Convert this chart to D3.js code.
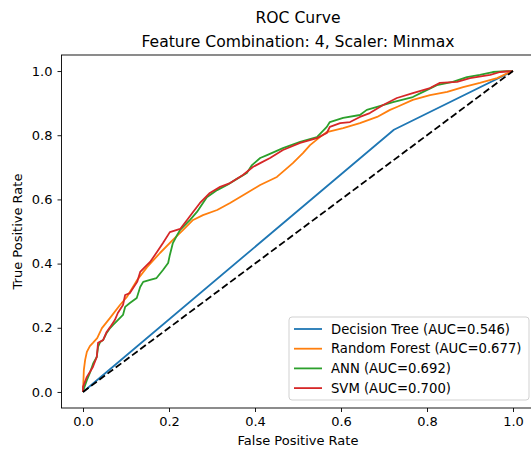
<!DOCTYPE html>
<html>
<head>
<meta charset="utf-8">
<script src="https://cdn.jsdelivr.net/npm/d3@7"></script>
<style>
  html, body { margin: 0; padding: 0; background: #fff; }
  svg { display: block; }
  text { font-family: "DejaVu Sans", sans-serif; fill: #000; }
</style>
</head>
<body>
<svg id="chart" width="531" height="450"></svg>
<script>
const titleMain = "ROC Curve";
const titleSub = "Feature Combination: 4, Scaler: Minmax";
const xLabel = "False Positive Rate";
const yLabel = "True Positive Rate";
const tickValues = [0.0, 0.2, 0.4, 0.6, 0.8, 1.0];

const seriesNames = ["Decision Tree", "Random Forest", "ANN", "SVM"];
const seriesAUC = ["0.546", "0.677", "0.692", "0.700"];
const seriesColors = ["#1f77b4", "#ff7f0e", "#2ca02c", "#d62728"];

const dtFpr = [0, 0.723, 1];
const dtTpr = [0, 0.817, 1];

const rfFpr = [0, 0.002, 0.005, 0.009, 0.016, 0.023, 0.033, 0.044, 0.063, 0.086, 0.102, 0.126, 0.149, 0.179, 0.209, 0.233, 0.256, 0.279, 0.312, 0.342, 0.381, 0.412, 0.451, 0.488, 0.512, 0.528, 0.551, 0.567, 0.605, 0.644, 0.684, 0.714, 0.730, 0.767, 0.807, 0.847, 0.884, 0.923, 0.963, 0.993, 1];
const rfTpr = [0, 0.069, 0.100, 0.125, 0.143, 0.153, 0.168, 0.199, 0.231, 0.271, 0.296, 0.349, 0.389, 0.433, 0.474, 0.505, 0.536, 0.551, 0.567, 0.589, 0.620, 0.645, 0.670, 0.713, 0.745, 0.769, 0.794, 0.810, 0.822, 0.838, 0.857, 0.879, 0.888, 0.910, 0.925, 0.935, 0.950, 0.963, 0.978, 0.997, 1];

const annFpr = [0, 0.001, 0.009, 0.016, 0.024, 0.032, 0.035, 0.040, 0.047, 0.055, 0.063, 0.070, 0.081, 0.093, 0.098, 0.109, 0.125, 0.133, 0.140, 0.156, 0.171, 0.186, 0.198, 0.202, 0.209, 0.219, 0.226, 0.249, 0.265, 0.279, 0.288, 0.312, 0.335, 0.358, 0.381, 0.393, 0.412, 0.428, 0.465, 0.505, 0.544, 0.567, 0.574, 0.605, 0.644, 0.660, 0.684, 0.721, 0.767, 0.791, 0.823, 0.860, 0.893, 0.923, 0.953, 0.986, 1];
const annTpr = [0, 0.006, 0.037, 0.059, 0.090, 0.109, 0.140, 0.156, 0.162, 0.184, 0.199, 0.209, 0.224, 0.240, 0.265, 0.277, 0.293, 0.327, 0.343, 0.349, 0.355, 0.380, 0.402, 0.427, 0.464, 0.489, 0.505, 0.536, 0.561, 0.589, 0.607, 0.629, 0.645, 0.664, 0.682, 0.707, 0.729, 0.738, 0.760, 0.779, 0.794, 0.826, 0.841, 0.854, 0.863, 0.879, 0.888, 0.903, 0.919, 0.935, 0.956, 0.966, 0.981, 0.988, 0.997, 1.0, 1];

const svmFpr = [0, 0, 0.009, 0.016, 0.023, 0.032, 0.035, 0.047, 0.055, 0.063, 0.074, 0.081, 0.093, 0.098, 0.109, 0.126, 0.133, 0.149, 0.156, 0.172, 0.186, 0.202, 0.226, 0.242, 0.256, 0.272, 0.295, 0.319, 0.342, 0.372, 0.395, 0.412, 0.435, 0.465, 0.505, 0.544, 0.567, 0.574, 0.598, 0.621, 0.644, 0.667, 0.698, 0.730, 0.767, 0.807, 0.830, 0.870, 0.900, 0.947, 0.970, 1];
const svmTpr = [0, 0.016, 0.047, 0.062, 0.078, 0.109, 0.153, 0.162, 0.187, 0.202, 0.224, 0.246, 0.271, 0.302, 0.308, 0.343, 0.374, 0.396, 0.405, 0.436, 0.464, 0.498, 0.508, 0.536, 0.561, 0.589, 0.620, 0.639, 0.651, 0.676, 0.701, 0.713, 0.729, 0.754, 0.776, 0.791, 0.807, 0.826, 0.838, 0.841, 0.857, 0.869, 0.894, 0.916, 0.931, 0.947, 0.963, 0.966, 0.978, 0.988, 0.997, 1];

const diagX = [0, 1];
const diagY = [0, 1];

const seriesFpr = [dtFpr, rfFpr, annFpr, svmFpr];
const seriesTpr = [dtTpr, rfTpr, annTpr, svmTpr];

const svg = d3.select("#chart");
const x = d3.scaleLinear().domain([-0.05, 1.05]).range([61.5, 534.5]);
const y = d3.scaleLinear().domain([-0.05, 1.05]).range([408, 55]);

// titles
svg.append("text").attr("x", 298).attr("y", 23).attr("text-anchor", "middle")
  .style("font-size", "15.6px").text(titleMain);
svg.append("text").attr("x", 298).attr("y", 47).attr("text-anchor", "middle")
  .style("font-size", "15.6px").text(titleSub);

// clip
svg.append("clipPath").attr("id", "clip").append("rect")
  .attr("x", 61.5).attr("y", 55).attr("width", 473).attr("height", 353);

const line = d3.line().x(d => x(d[0])).y(d => y(d[1]));
const plot = svg.append("g").attr("clip-path", "url(#clip)");

seriesNames.forEach((name, i) => {
  const pts = seriesFpr[i].map((v, j) => [v, seriesTpr[i][j]]);
  plot.append("path").datum(pts).attr("d", line)
    .attr("fill", "none").attr("stroke", seriesColors[i])
    .attr("stroke-width", 1.8).attr("stroke-linejoin", "round");
});
plot.append("path").datum(diagX.map((v, j) => [v, diagY[j]])).attr("d", line)
  .attr("fill", "none").attr("stroke", "#000").attr("stroke-width", 1.8)
  .attr("stroke-dasharray", "7,3.2");

// axes
const xAxis = svg.append("g").attr("transform", "translate(0,408)")
  .call(d3.axisBottom(x).tickValues(tickValues).tickFormat(d3.format(".1f")).tickSize(4).tickPadding(4.5));
const yAxis = svg.append("g").attr("transform", "translate(61.5,0)")
  .call(d3.axisLeft(y).tickValues(tickValues).tickFormat(d3.format(".1f")).tickSize(4).tickPadding(5));
[xAxis, yAxis].forEach(a => {
  a.select(".domain").remove();
  a.selectAll(".tick line").attr("stroke", "#000").attr("stroke-width", 0.9);
  a.selectAll(".tick text").style("font-size", "13px").style("font-family", "DejaVu Sans, sans-serif").attr("fill", "#000");
});

// spines
svg.append("rect").attr("x", 61.5).attr("y", 55).attr("width", 473).attr("height", 353)
  .attr("fill", "none").attr("stroke", "#000").attr("stroke-width", 0.9);

// axis labels
svg.append("text").attr("x", 298).attr("y", 445).attr("text-anchor", "middle")
  .style("font-size", "13px").text(xLabel);
svg.append("text").attr("transform", "translate(21.5,231.5) rotate(-90)").attr("text-anchor", "middle")
  .style("font-size", "13px").text(yLabel);

// legend
const lg = svg.append("g");
lg.append("rect").attr("x", 289).attr("y", 317).attr("width", 240).attr("height", 83)
  .attr("rx", 3).attr("fill", "#fff").attr("fill-opacity", 0.8)
  .attr("stroke", "#ccc").attr("stroke-width", 0.9);
seriesNames.forEach((name, i) => {
  const cy = 329 + i * 19.7;
  lg.append("line").attr("x1", 294).attr("x2", 322).attr("y1", cy).attr("y2", cy)
    .attr("stroke", seriesColors[i]).attr("stroke-width", 1.8);
  lg.append("text").attr("x", 331).attr("y", cy + 4.7).style("font-size", "13.2px")
    .text(`${name} (AUC=${seriesAUC[i]})`);
});
</script>
</body>
</html>
